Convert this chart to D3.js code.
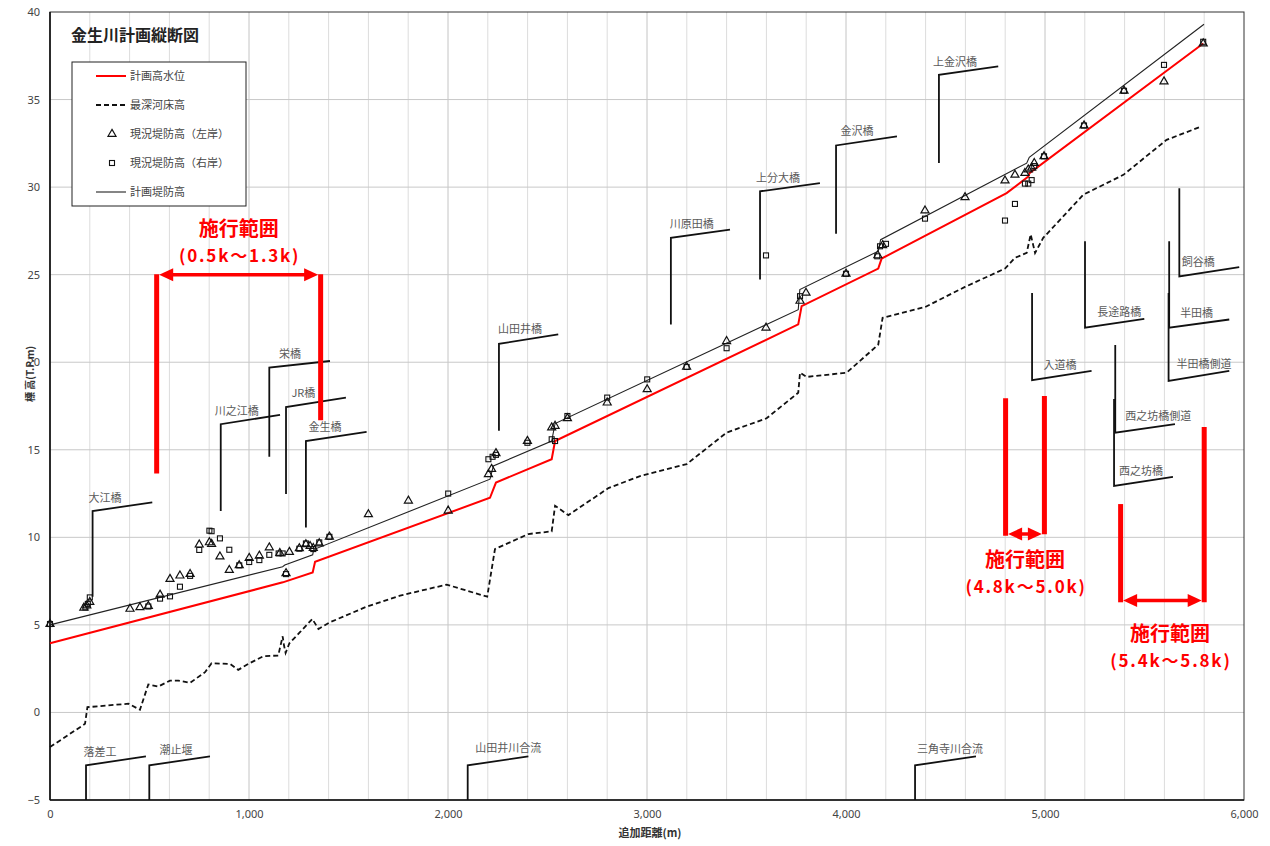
<!DOCTYPE html>
<html>
<head>
<meta charset="utf-8">
<script src="https://cdn.jsdelivr.net/npm/d3@7"></script>
<style>
  body { margin: 0; background: #fff; }
  text { font-family: "Noto Sans CJK JP", "Noto Sans", sans-serif; }
</style>
</head>
<body>
<div id="chart"></div>
<script>
// 計画高水位 (distance m, elevation T.P.m)
var highWater = [[0,3.95],[1170,7.43],[1320,8.0],[1332,8.6],[2211,12.26],[2241,13.13],[2521,14.46],[2538,15.5],
  [3760,22.16],[3777,23.2],[4162,25.35],[4179,25.92],[4807,29.66],[4916,30.6],[4922,30.8],[5795,38.2]];

// 計画堤防高
var planLevee = [[0,5.0],[1169,8.32],[1180,8.42],[1320,9.0],[1325,9.3],[2211,13.32],[2228,14.08],[2521,15.5],
  [2538,16.5],[3760,23.0],[3768,24.15],[4162,26.34],[4174,27.0],[4908,31.37],[4921,31.7],[5799,39.3]];

// 最深河床高
var riverBed = [[0,-1.98],[176,-0.65],[188,0.3],[394,0.5],[452,0.15],[494,1.6],[544,1.48],[603,1.82],[645,1.82],
  [704,1.69],[779,2.3],[812,2.81],[905,2.77],[946,2.43],[996,2.77],[1072,3.21],[1147,3.25],[1169,4.35],[1176,3.82],
  [1184,3.4],[1203,3.95],[1256,4.58],[1318,5.34],[1349,4.77],[1407,5.15],[1591,6.04],[1759,6.67],[1993,7.3],
  [2197,6.61],[2236,9.33],[2404,10.19],[2521,10.34],[2538,11.8],[2605,11.27],[2806,12.81],[2965,13.5],[3199,14.18],
  [3400,15.98],[3601,16.8],[3760,18.26],[3769,19.4],[3802,19.16],[4003,19.4],[4162,21.0],[4184,22.54],[4397,23.15],
  [4598,24.3],[4799,25.35],[4849,25.96],[4908,26.24],[4928,27.3],[4950,26.24],[4991,27.1],[5193,29.57],[5394,30.7],
  [5611,32.7],[5787,33.47]];

// 現況堤防高(左岸)
var leftBank = [[0,5.05],[170,5.98],[185,6.1],[200,6.3],[402,5.91],[452,6.0],[494,6.08],[553,6.72],[603,7.62],
  [653,7.81],[704,7.9],[750,9.58],[801,9.71],[812,9.62],[854,8.9],[901,8.13],[951,8.4],[1001,8.82],[1052,8.95],
  [1102,9.42],[1155,9.1],[1186,7.95],[1203,9.16],[1253,9.37],[1286,9.6],[1307,9.5],[1323,9.38],[1353,9.65],
  [1404,10.03],[1600,11.31],[1801,12.09],[2001,11.52],[2203,13.6],[2219,13.9],[2241,14.8],[2399,15.5],[2521,16.27],
  [2538,16.36],[2600,16.8],[2800,17.69],[3001,18.45],[3199,19.73],[3400,21.2],[3598,21.97],[3769,23.5],[3799,23.96],
  [4000,25.05],[4160,26.1],[4184,26.68],[4397,28.66],[4598,29.42],[4799,30.37],[4849,30.7],[4899,30.8],[4916,31.0],
  [4933,31.1],[4946,31.37],[4995,31.76],[5196,33.52],[5397,35.5],[5598,36.03],[5795,38.2]];

// 現況堤防高(右岸)
var rightBank = [[0,5.05],[178,6.0],[190,6.2],[200,6.57],[494,6.05],[553,6.5],[603,6.63],[653,7.18],[704,7.8],
  [750,9.28],[801,10.38],[812,10.35],[854,9.94],[901,9.29],[951,8.4],[1001,8.59],[1052,8.7],[1102,9.0],[1149,9.08],
  [1169,9.08],[1186,7.9],[1253,9.35],[1286,9.65],[1323,9.33],[1353,9.71],[1404,10.03],[2001,12.5],[2203,14.46],
  [2224,14.6],[2241,14.71],[2399,15.4],[2521,15.6],[2538,15.5],[2600,16.93],[2800,17.98],[3001,19.02],[3199,19.73],
  [3400,20.8],[3598,26.1],[3769,23.77],[4000,25.05],[4157,26.05],[4171,26.62],[4201,26.76],[4397,28.2],[4799,28.09],
  [4849,29.04],[4899,30.2],[4916,30.2],[4933,30.4],[4946,31.2],[4995,31.76],[5196,33.52],[5397,35.5],[5598,36.98],
  [5795,38.3]];

// 構造物: name, station, vertical end elev, corner elev, slant end station, slant end elev, label station
var structures = [
  ["大江橋",214,6.6,11.5,514,12.0,276],
  ["川之江橋",858,11.5,16.46,1156,16.99,938],
  ["栄橋",1102,14.6,19.69,1407,20.07,1206],
  ["JR橋",1186,12.47,17.44,1487,17.98,1273],
  ["金生橋",1286,10.56,15.5,1591,16.02,1382],
  ["山田井橋",2256,16.08,21.05,2554,21.59,2362],
  ["川原田橋",3120,22.16,27.1,3417,27.57,3225],
  ["上分大橋",3568,24.73,29.76,3869,30.23,3658],
  ["金沢橋",3950,27.33,32.38,4256,32.9,4055],
  ["上金沢橋",4467,31.37,36.41,4765,36.89,4548],
  ["入道橋",4935,23.96,18.97,5234,19.5,5075],
  ["長途路橋",5201,26.91,21.97,5499,22.48,5373],
  ["飼谷橋",5675,29.93,24.9,5976,25.43,5770],
  ["半田橋",5624,26.91,21.97,5926,22.44,5762],
  ["半田橋側道",5621,23.96,18.93,5926,19.5,5799],
  ["西之坊橋側道",5353,20.98,15.98,5653,16.46,5569],
  ["西之坊橋",5347,17.9,12.94,5643,13.45,5482],
  ["落差工",181,-5,-3.02,482,-2.51,251],
  ["潮止堰",499,-5,-3.02,804,-2.51,633],
  ["山田井川合流",2099,-5,-3.02,2404,-2.51,2303],
  ["三角寺川合流",4347,-5,-3.02,4653,-2.51,4523]
];

// 施行範囲: left station, left top, left bottom, right station, right top, right bottom, arrow elev, text station, text elevs, range text
var works = [
  [536,25.03,13.64,1360,25.03,16.69,25.0,948,[27.6,26.05],"(0.5k～1.3k)"],
  [4802,17.94,10.09,4997,18.07,10.18,10.19,4900,[8.72,7.18],"(4.8k～5.0k)"],
  [5380,11.9,6.29,5800,16.3,6.29,6.39,5628,[4.5,2.96],"(5.4k～5.8k)"]
];

var xTicks = [0,1000,2000,3000,4000,5000,6000];
var yTicks = [-5,0,5,10,15,20,25,30,35,40];

var W = 1270, H = 846;
var svg = d3.select('#chart').append('svg').attr('width', W).attr('height', H);

var x = d3.scaleLinear().domain([0,6000]).range([50,1244]);
var y = d3.scaleLinear().domain([-5,40]).range([800,12]);

// grid
svg.append('g').selectAll('line').data(d3.range(200,6000,200)).enter().append('line')
  .attr('x1', function(d){ return x(d); }).attr('x2', function(d){ return x(d); })
  .attr('y1', y(-5)).attr('y2', y(40))
  .attr('stroke', function(d){ return d % 1000 === 0 ? '#c4c4c4' : '#dcdcdc'; })
  .attr('stroke-width', 1);
svg.append('g').selectAll('line').data(yTicks.slice(1, -1)).enter().append('line')
  .attr('x1', x(0)).attr('x2', x(6000))
  .attr('y1', function(d){ return y(d); }).attr('y2', function(d){ return y(d); })
  .attr('stroke', '#c8c8c8').attr('stroke-width', 1);

// frame
svg.append('rect').attr('x', x(0)).attr('y', y(40))
  .attr('width', x(6000) - x(0)).attr('height', y(-5) - y(40))
  .attr('fill', 'none').attr('stroke', '#333').attr('stroke-width', 1);
svg.append('line').attr('x1', x(0)).attr('x2', x(0)).attr('y1', y(40)).attr('y2', y(-5))
  .attr('stroke', '#111').attr('stroke-width', 1.6);
svg.append('line').attr('x1', x(0)).attr('x2', x(6000)).attr('y1', y(-5)).attr('y2', y(-5))
  .attr('stroke', '#111').attr('stroke-width', 1.6);

// axes
var xAxis = d3.axisBottom(x).tickValues(xTicks).tickSize(0).tickPadding(10).tickFormat(d3.format(','));
var gx = svg.append('g').attr('transform', 'translate(0,' + y(-5) + ')').call(xAxis);
var yAxis = d3.axisLeft(y).tickValues(yTicks).tickSize(0).tickPadding(10);
var gy = svg.append('g').attr('transform', 'translate(' + x(0) + ',0)').call(yAxis);
[gx, gy].forEach(function(g){
  g.select('.domain').remove();
  g.selectAll('text').attr('font-size', 11).attr('fill', '#444')
    .style('font-family', '"Noto Sans", sans-serif');
});

svg.append('text').attr('x', 650).attr('y', 837).attr('text-anchor', 'middle')
  .attr('font-size', 11).attr('font-weight', 'bold').attr('fill', '#333').text('追加距離(m)');
svg.append('text').attr('transform', 'translate(34,374) rotate(-90)').attr('text-anchor', 'middle')
  .attr('font-size', 10).attr('font-weight', 'bold').attr('fill', '#333').text('標 高(T.P.m)');

// structures
var sg = svg.append('g');
structures.forEach(function(s){
  sg.append('path')
    .attr('d', 'M' + x(s[1]) + ',' + y(s[2]) + 'L' + x(s[1]) + ',' + y(s[3]) + 'L' + x(s[4]) + ',' + y(s[5]))
    .attr('fill', 'none').attr('stroke', '#111').attr('stroke-width', 1.8);
  var t = (s[6] - s[1]) / (s[4] - s[1]);
  var ly = y(s[3] + (s[5] - s[3]) * t);
  sg.append('text').attr('x', x(s[6])).attr('y', ly - 7).attr('text-anchor', 'middle')
    .attr('font-size', 11).attr('fill', '#5a5a5a').text(s[0]);
});

// series
var line = d3.line().x(function(d){ return x(d[0]); }).y(function(d){ return y(d[1]); });
svg.append('path').datum(riverBed).attr('d', line).attr('fill', 'none')
  .attr('stroke', '#111').attr('stroke-width', 1.8).attr('stroke-dasharray', '5,3');
svg.append('path').datum(planLevee).attr('d', line).attr('fill', 'none')
  .attr('stroke', '#222').attr('stroke-width', 1.1);
svg.append('path').datum(highWater).attr('d', line).attr('fill', 'none')
  .attr('stroke', '#ff0000').attr('stroke-width', 2);

var tri = d3.symbol().type(d3.symbolTriangle).size(28);
svg.append('g').selectAll('path').data(leftBank).enter().append('path')
  .attr('d', tri)
  .attr('transform', function(d){ return 'translate(' + x(d[0]) + ',' + y(d[1]) + ')'; })
  .attr('fill', 'none').attr('stroke', '#111').attr('stroke-width', 1.2);
svg.append('g').selectAll('rect').data(rightBank).enter().append('rect')
  .attr('x', function(d){ return x(d[0]) - 2.5; }).attr('y', function(d){ return y(d[1]) - 2.5; })
  .attr('width', 5).attr('height', 5)
  .attr('fill', 'none').attr('stroke', '#111').attr('stroke-width', 1.1);

// 施行範囲
var red = '#ff0000';
var wg = svg.append('g');
works.forEach(function(w){
  wg.append('line').attr('x1', x(w[0])).attr('x2', x(w[0])).attr('y1', y(w[1])).attr('y2', y(w[2]))
    .attr('stroke', red).attr('stroke-width', 5);
  wg.append('line').attr('x1', x(w[3])).attr('x2', x(w[3])).attr('y1', y(w[4])).attr('y2', y(w[5]))
    .attr('stroke', red).attr('stroke-width', 5);
  var ay = y(w[6]), xl = x(w[0]) + 2.5, xr = x(w[3]) - 2.5;
  wg.append('line').attr('x1', xl + 10).attr('x2', xr - 10).attr('y1', ay).attr('y2', ay)
    .attr('stroke', red).attr('stroke-width', 3.5);
  wg.append('path').attr('d', 'M' + xl + ',' + ay + 'l14,-6.5l0,13z').attr('fill', red);
  wg.append('path').attr('d', 'M' + xr + ',' + ay + 'l-14,-6.5l0,13z').attr('fill', red);
  wg.append('text').attr('x', x(w[7])).attr('y', y(w[8][0])).attr('dy', '0.36em')
    .attr('text-anchor', 'middle').attr('font-size', 20).attr('font-weight', 'bold')
    .attr('fill', red).text('施行範囲');
  wg.append('text').attr('x', x(w[7]) + 1).attr('y', y(w[8][1])).attr('dy', '0.36em')
    .attr('text-anchor', 'middle').attr('font-size', 17).attr('font-weight', 'bold')
    .attr('letter-spacing', 1.8).attr('fill', red).text(w[9]);
});

// title
svg.append('text').attr('x', 71).attr('y', 41).attr('font-size', 16).attr('font-weight', 'bold')
  .attr('fill', '#222').text('金生川計画縦断図');

// legend
var lg = svg.append('g');
lg.append('rect').attr('x', 72).attr('y', 62).attr('width', 174).attr('height', 144)
  .attr('fill', '#fff').attr('stroke', '#222').attr('stroke-width', 1);
var legendItems = ['計画高水位','最深河床高','現況堤防高（左岸）','現況堤防高（右岸）','計画堤防高'];
legendItems.forEach(function(name, i){
  var ly = 76 + i * 29;
  if (i === 0) lg.append('line').attr('x1', 96).attr('x2', 126).attr('y1', ly).attr('y2', ly).attr('stroke', red).attr('stroke-width', 2);
  if (i === 1) lg.append('line').attr('x1', 96).attr('x2', 126).attr('y1', ly).attr('y2', ly).attr('stroke', '#111').attr('stroke-width', 1.8).attr('stroke-dasharray', '5,3');
  if (i === 2) lg.append('path').attr('d', tri).attr('transform', 'translate(112,' + ly + ')').attr('fill', 'none').attr('stroke', '#111').attr('stroke-width', 1.2);
  if (i === 3) lg.append('rect').attr('x', 109.5).attr('y', ly - 2.5).attr('width', 5).attr('height', 5).attr('fill', 'none').attr('stroke', '#111').attr('stroke-width', 1.1);
  if (i === 4) lg.append('line').attr('x1', 96).attr('x2', 126).attr('y1', ly).attr('y2', ly).attr('stroke', '#222').attr('stroke-width', 1.1);
  lg.append('text').attr('x', 130).attr('y', ly).attr('dy', '0.35em').attr('font-size', 11)
    .attr('fill', '#444').text(name);
});
</script>
</body>
</html>
